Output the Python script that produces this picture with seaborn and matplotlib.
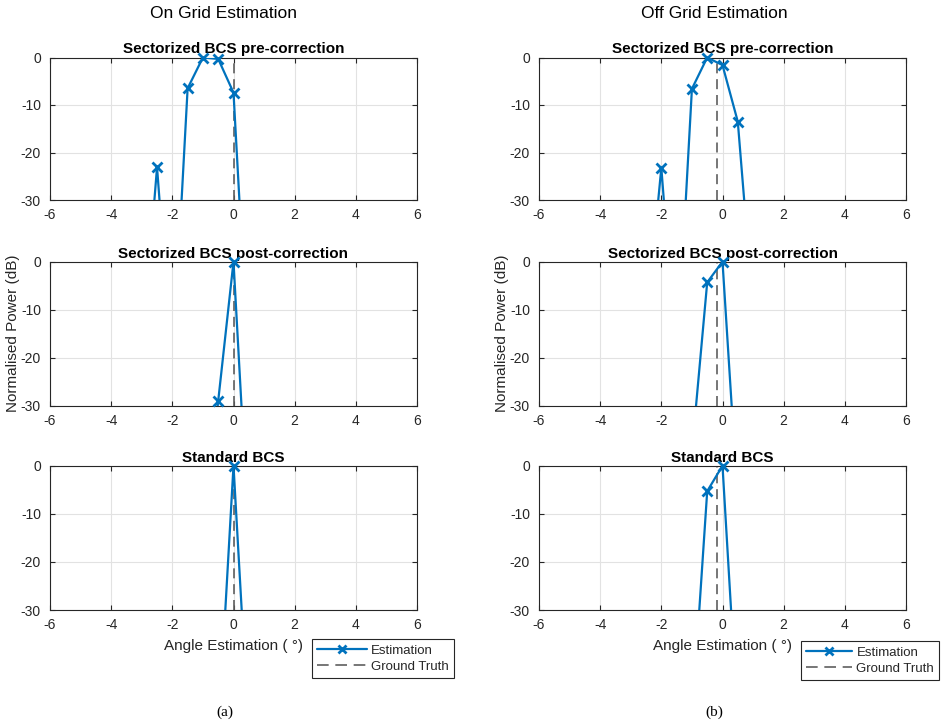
import matplotlib
matplotlib.use("Agg")
import matplotlib.pyplot as plt
import seaborn as sns
import pandas as pd
from matplotlib.lines import Line2D

# ---------------- data ----------------
angles = [-6.0, -5.5, -5.0, -4.5, -4.0, -3.5, -3.0, -2.5, -2.0, -1.5, -1.0, -0.5,
          0.0, 0.5, 1.0, 1.5, 2.0, 2.5, 3.0, 3.5, 4.0, 4.5, 5.0, 5.5, 6.0]

on_pre = [-80, -80, -80, -80, -80, -80, -63, -23.1, -66, -6.5, 0.0, -0.3,
          -7.4, -66, -80, -80, -80, -80, -80, -80, -80, -80, -80, -80, -80]
on_post = [-80, -80, -80, -80, -80, -80, -80, -80, -80, -80, -60, -29.0,
           0.0, -57.5, -80, -80, -80, -80, -80, -80, -80, -80, -80, -80, -80]
on_std = [-80, -80, -80, -80, -80, -80, -80, -80, -80, -80, -80, -56,
          0.0, -56, -80, -80, -80, -80, -80, -80, -80, -80, -80, -80, -80]

off_pre = [-80, -80, -80, -80, -80, -80, -80, -57, -23.2, -65, -6.6, 0.0,
           -1.6, -13.5, -53, -80, -80, -80, -80, -80, -80, -80, -80, -80, -80]
off_post = [-80, -80, -80, -80, -80, -80, -80, -80, -80, -80, -39.5, -4.3,
            0.0, -50, -80, -80, -80, -80, -80, -80, -80, -80, -80, -80, -80]
off_std = [-80, -80, -80, -80, -80, -80, -80, -80, -80, -80, -53, -5.3,
           0.0, -53.5, -80, -80, -80, -80, -80, -80, -80, -80, -80, -80, -80]

truth_on = 0.0
truth_off = -0.19

panel_titles = ["Sectorized BCS pre-correction", "Sectorized BCS post-correction", "Standard BCS"]
column_titles = ["On Grid Estimation", "Off Grid Estimation"]
captions = ["(a)", "(b)"]
x_ticks = [-6, -4, -2, 0, 2, 4, 6]
y_ticks = [-30, -20, -10, 0]
legend_labels = ["Estimation", "Ground Truth"]

columns = [[on_pre, on_post, on_std], [off_pre, off_post, off_std]]
truths = [truth_on, truth_off]

# ---------------- style ----------------
sns.set_theme(style="whitegrid")
plt.rcParams.update({
    "font.family": ["Liberation Sans", "DejaVu Sans"],
    "axes.unicode_minus": False,
    "axes.edgecolor": "#262626",
    "axes.linewidth": 0.8,
    "axes.facecolor": "white",
    "grid.color": "#e2e2e2",
    "grid.linewidth": 0.8,
    "xtick.direction": "in",
    "ytick.direction": "in",
    "xtick.top": True,
    "ytick.right": True,
    "xtick.bottom": True,
    "ytick.left": True,
    "xtick.major.size": 3.5,
    "ytick.major.size": 3.5,
    "xtick.major.width": 0.8,
    "ytick.major.width": 0.8,
    "xtick.color": "#262626",
    "ytick.color": "#262626",
    "xtick.labelsize": 10,
    "ytick.labelsize": 10,
})

BLUE = "#0072BD"
GRAY = "#5f5f5f"
DASH = (0, (6, 3.5))
W, H = 941, 725

fig = plt.figure(figsize=(W / 100, H / 100), dpi=100)

lefts = [50, 539]
width = 367
rows = [(57.5, 200.0), (261.7, 405.7), (465.7, 610.0)]

for c in range(2):
    for r in range(3):
        top, bot = rows[r]
        ax = fig.add_axes([lefts[c] / W, 1 - bot / H, width / W, (bot - top) / H])
        vals = columns[c][r]
        df = pd.DataFrame({"angle": angles, "power": vals})
        ax.axvline(truths[c], color=GRAY, lw=1.2, ls=DASH, zorder=2)
        sns.lineplot(data=df, x="angle", y="power", ax=ax, color=BLUE, lw=1.6,
                     estimator=None, sort=False, zorder=3)
        vis = df[df["power"] >= -30]
        ax.plot(vis["angle"], vis["power"], ls="none", marker="x", ms=7, mew=2,
                color=BLUE, clip_on=False, zorder=4)
        ax.set_xlim(-6, 6)
        ax.set_ylim(-30, 0)
        ax.set_xticks(x_ticks)
        ax.set_yticks(y_ticks)
        ax.grid(True, color="#e2e2e2", lw=0.8)
        for s in ax.spines.values():
            s.set_color("#262626")
            s.set_linewidth(0.8)
        ax.tick_params(axis="x", which="major", pad=6, colors="#262626")
        ax.tick_params(axis="y", which="major", pad=6.5, colors="#262626")
        ax.set_title(panel_titles[r], fontsize=11, fontweight="bold", pad=3, color="black")
        ax.set_xlabel("")
        ax.set_ylabel("")
        if r == 1:
            ax.set_ylabel("Normalised Power (dB)", fontsize=11, color="#262626", labelpad=0.5)
        if r == 2:
            ax.set_xlabel("Angle Estimation ( °)", fontsize=11, color="#262626", labelpad=5)

    fig.text([224, 714][c] / W, 1 - 13 / H, column_titles[c], ha="center", va="center",
             fontsize=12.5, color="black")
    fig.text([225, 714][c] / W, 1 - 712 / H, captions[c], ha="center", va="center",
             fontsize=11, family=["Liberation Serif", "DejaVu Serif"], color="black")

    handles = [Line2D([], [], color=BLUE, lw=1.6, marker="x", ms=6, mew=2),
               Line2D([], [], color=GRAY, lw=1.2, ls=(0, (7, 4)))]
    leg = fig.legend(handles, legend_labels, loc="lower left",
                     bbox_to_anchor=([311.7, 801.0][c] / W, 1 - [678, 680][c] / H),
                     fontsize=9.5, frameon=True, fancybox=False, framealpha=1,
                     edgecolor="#262626", handlelength=[3.8, 3.5][c], handletextpad=0.3,
                     borderpad=0.4, labelspacing=0.3, borderaxespad=0)
    leg.get_frame().set_linewidth(0.8)

fig.savefig("out.png", dpi=100)
